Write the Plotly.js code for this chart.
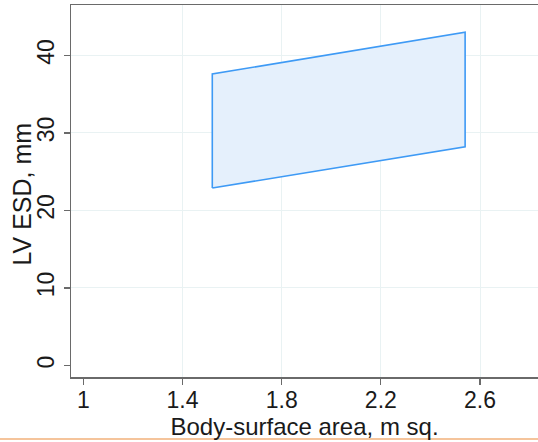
<!DOCTYPE html>
<html>
<head>
<meta charset="utf-8">
<script src="https://cdn.plot.ly/plotly-3.0.1.min.js"></script>
<style>html,body{margin:0;padding:0;background:#fff;}#chart{width:538px;height:442px;}</style>
</head>
<body>
<div id="chart"></div>
<script>
// Normal range band for LV ESD versus body-surface area
var bsa = [1.52, 2.54];          // body-surface area, m sq.
var lowerESD = [22.9, 28.2];     // lower limit, mm
var upperESD = [37.6, 43.0];     // upper limit, mm
var xTicks = [1, 1.4, 1.8, 2.2, 2.6];
var xTickText = ['1', '1.4', '1.8', '2.2', '2.6'];
var yTicks = [0, 10, 20, 30, 40];
var yTickText = ['0', '10', '20', '30', '40'];
var xGrid = [1.4, 1.8, 2.2, 2.6];
var yGrid = [10, 20, 30, 40];
var xTitle = 'Body-surface area, m sq.';
var yTitle = 'LV ESD, mm';

// polygon: lower edge left->right, upper edge right->left
var polyX = [bsa[0], bsa[1], bsa[1], bsa[0], bsa[0]];
var polyY = [lowerESD[0], lowerESD[1], upperESD[1], upperESD[0], lowerESD[0]];

var font = 'Liberation Sans, Arial, Helvetica, sans-serif';
var xr = [0.950, 2.834];
var yr = [-1.48, 46.5];

var traces = [
  {x: polyX, y: polyY, type: 'scatter', mode: 'lines', fill: 'toself',
   fillcolor: '#E5F0FC', line: {color: '#3E9AF5', width: 1.6}, hoverinfo: 'skip', showlegend: false},
  {x: [xr[0]], y: [yr[0]], xaxis: 'x2', yaxis: 'y2', type: 'scatter', mode: 'markers',
   marker: {opacity: 0}, hoverinfo: 'skip', showlegend: false}
];

var layout = {
  width: 538, height: 442,
  margin: {l: 71, r: 0, t: 5, b: 65},
  paper_bgcolor: '#ffffff', plot_bgcolor: '#ffffff',
  font: {family: font, color: '#1a1a1a'},
  showlegend: false,
  xaxis: {
    range: xr, tickvals: xTicks, ticktext: xTickText,
    showgrid: false, zeroline: false,
    showline: true, linecolor: '#6a6a6a', linewidth: 1.5, mirror: true,
    ticks: 'outside', ticklen: 6, tickwidth: 1.2, tickcolor: '#6a6a6a',
    ticklabelstandoff: -4,
    tickfont: {size: 23, family: font, color: '#1a1a1a'},
    title: {text: xTitle, font: {size: 24, family: font, color: '#1a1a1a'}, standoff: 0},
    automargin: false
  },
  yaxis: {
    range: yr, tickvals: yTicks, ticktext: yTickText, tickangle: -90,
    showgrid: false, zeroline: false,
    showline: true, linecolor: '#6a6a6a', linewidth: 1.5,
    ticks: 'outside', ticklen: 6, tickwidth: 1.2, tickcolor: '#6a6a6a',
    tickfont: {size: 23, family: font, color: '#1a1a1a'},
    automargin: false
  },
  xaxis2: {
    range: xr, overlaying: 'x', tickvals: xGrid, showticklabels: false, ticks: '',
    showgrid: true, gridcolor: '#E9F2F3', gridwidth: 1, zeroline: false, showline: false
  },
  yaxis2: {
    range: yr, overlaying: 'y', tickvals: yGrid, showticklabels: false, ticks: '',
    showgrid: true, gridcolor: '#E9F2F3', gridwidth: 1, zeroline: false, showline: false
  },
  annotations: [
    {text: yTitle, xref: 'paper', yref: 'paper', x: -49.5/467, y: 183/372,
     xanchor: 'center', yanchor: 'middle', textangle: -90, showarrow: false,
     font: {size: 25, family: font, color: '#1a1a1a'}}
  ],
  shapes: [
    {type: 'line', xref: 'paper', yref: 'paper', x0: -71/467, x1: 1, y0: -62/372, y1: -62/372,
     line: {color: '#F2B07A', width: 1.5}}
  ]
};

Plotly.newPlot('chart', traces, layout, {displayModeBar: false, staticPlot: true});
</script>
</body>
</html>
